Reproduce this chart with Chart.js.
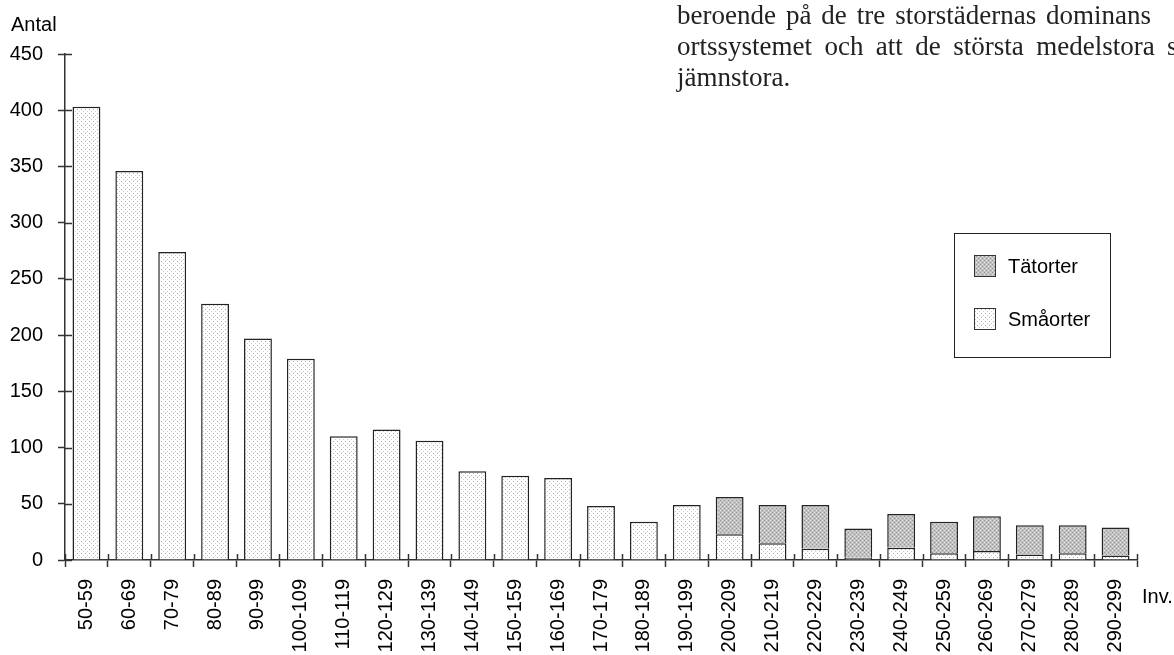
<!DOCTYPE html>
<html>
<head>
<meta charset="utf-8">
<script src="https://cdn.jsdelivr.net/npm/chart.js@4/dist/chart.umd.min.js"></script>
<style>
    html, body { margin: 0; padding: 0; background: #fff; overflow: hidden; }
    #wrap { position: relative; width: 1174px; height: 655px; overflow: hidden; }
    .lbl { position: absolute; font-family: "Liberation Sans", Arial, sans-serif; font-size: 20px; color: #000; white-space: nowrap; }
    .txt { position: absolute; left: 677px; font-family: "Liberation Serif", "Times New Roman", serif; font-size: 27px; line-height: 31px; color: #222; white-space: nowrap; }
</style>
</head>
<body>
<div id="wrap">
    <canvas id="barChart" width="1174" height="655"></canvas>
    <div class="lbl" style="left:11px; top:13px;">Antal</div>
    <div class="lbl" style="left:1142px; top:585px;">Inv.</div>
    <div class="txt" style="top:0px; word-spacing:3.2px;">beroende på de tre storstädernas dominans</div>
    <div class="txt" style="top:31px; word-spacing:5.7px;">ortssystemet och att de största medelstora städerna</div>
    <div class="txt" style="top:62px;">jämnstora.</div>
</div>
<script>
const categories = ['50-59', '60-69', '70-79', '80-89', '90-99', '100-109', '110-119', '120-129',
    '130-139', '140-149', '150-159', '160-169', '170-179', '180-189', '190-199', '200-209',
    '210-219', '220-229', '230-239', '240-249', '250-259', '260-269', '270-279', '280-289', '290-299'];
const smaorter = [403, 346, 274, 228, 197, 179, 110, 116, 106, 79, 75, 73, 48, 34, 49,
    23, 15, 10, 2, 11, 6, 8, 5, 6, 4];
const tatorter = [null, null, null, null, null, null, null, null, null, null, null, null, null, null, null,
    33, 34, 39, 26, 30, 28, 31, 26, 25, 25];
const yTicks = [0, 50, 100, 150, 200, 250, 300, 350, 400, 450];

const ctx = document.getElementById('barChart').getContext('2d');

function makePattern(bg, dots) {
    const c = document.createElement('canvas');
    c.width = 4;
    c.height = 4;
    const g = c.getContext('2d');
    g.fillStyle = bg;
    g.fillRect(0, 0, 4, 4);
    dots.forEach(function (d) {
        g.fillStyle = d[2];
        g.fillRect(d[0], d[1], 1, 1);
    });
    return ctx.createPattern(c, 'repeat');
}

const lightFill = makePattern('#ffffff', [[1, 1, '#aaaaaa'], [3, 3, '#cccccc']]);
const darkFill = makePattern('#c2c2c2', [[0, 0, '#949494'], [2, 2, '#949494'], [2, 0, '#e0e0e0'], [0, 2, '#e0e0e0']]);

// tick marks that cross the axes, plus the boxed legend
const extras = {
    id: 'extras',
    afterDraw(chart) {
        const c = chart.ctx;
        const x = chart.scales.x;
        const y = chart.scales.y;
        c.save();
        c.strokeStyle = '#333';
        c.lineWidth = 1.5;
        c.beginPath();
        yTicks.forEach(function (v) {
            const py = Math.round(y.getPixelForValue(v)) + 0.5;
            c.moveTo(y.right, py);
            c.lineTo(y.right + 7, py);
        });
        const step = x.width / categories.length;
        for (let i = 0; i <= categories.length; i++) {
            const px = Math.round(x.left + i * step) + 0.5;
            c.moveTo(px, x.top);
            c.lineTo(px, x.top - 6);
        }
        c.stroke();

        // legend
        c.lineWidth = 1;
        c.strokeStyle = '#222';
        c.strokeRect(954.5, 233.5, 156, 124);
        const items = [['Tätorter', darkFill, 255], ['Småorter', lightFill, 308]];
        c.font = '20px "Liberation Sans", Arial, sans-serif';
        c.textBaseline = 'middle';
        items.forEach(function (it) {
            c.fillStyle = it[1];
            c.fillRect(974, it[2], 21, 21);
            c.strokeStyle = '#333';
            c.strokeRect(974.5, it[2] + 0.5, 21, 21);
            c.fillStyle = '#000';
            c.fillText(it[0], 1008, it[2] + 12);
        });
        c.restore();
    }
};

const chart = new Chart(ctx, {
    type: 'bar',
    data: {
        labels: categories,
        datasets: [{
            label: 'Småorter',
            data: smaorter,
            backgroundColor: lightFill,
            borderColor: '#222',
            borderWidth: 1.5,
            barPercentage: 0.65,
            categoryPercentage: 1
        }, {
            label: 'Tätorter',
            data: tatorter,
            backgroundColor: darkFill,
            borderColor: '#222',
            borderWidth: 1.5,
            barPercentage: 0.65,
            categoryPercentage: 1
        }]
    },
    options: {
        responsive: false,
        animation: false,
        layout: {
            padding: { top: 54, right: 37, left: 0, bottom: 0 }
        },
        plugins: {
            legend: { display: false },
            tooltip: { enabled: false }
        },
        scales: {
            x: {
                stacked: true,
                grid: {
                    drawOnChartArea: false,
                    drawTicks: true,
                    tickLength: 7,
                    tickWidth: 1.5,
                    tickColor: '#333',
                    offset: true
                },
                border: { color: '#333', width: 1.5 },
                ticks: {
                    minRotation: 90,
                    maxRotation: 90,
                    autoSkip: false,
                    padding: 12,
                    color: '#000',
                    font: { family: '"Liberation Sans", Arial, sans-serif', size: 20 }
                },
                afterFit(scale) {
                    scale.height = 95;
                }
            },
            y: {
                stacked: true,
                min: 0,
                max: 450,
                grid: {
                    drawOnChartArea: false,
                    drawTicks: true,
                    tickLength: 7,
                    tickWidth: 1.5,
                    tickColor: '#333'
                },
                border: { color: '#333', width: 1.5 },
                ticks: {
                    stepSize: 50,
                    padding: 15,
                    color: '#000',
                    font: { family: '"Liberation Sans", Arial, sans-serif', size: 20 }
                },
                afterFit(scale) {
                    scale.width = 65;
                }
            }
        }
    },
    plugins: [extras]
});
</script>
</body>
</html>
